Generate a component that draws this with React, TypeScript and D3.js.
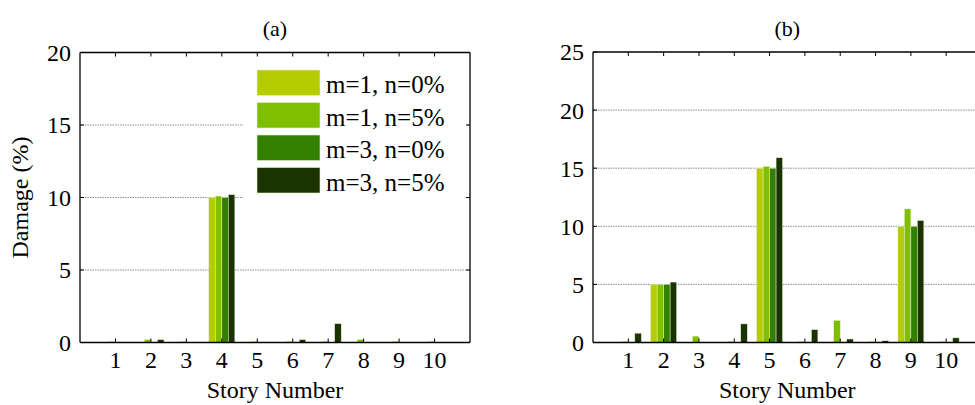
import React from "react";
import * as d3 from "d3";

const stories = [1, 2, 3, 4, 5, 6, 7, 8, 9, 10];
const seriesNames = ["m=1, n=0%", "m=1, n=5%", "m=3, n=0%", "m=3, n=5%"];
const seriesColors = ["#b5cc00", "#80bf00", "#338000", "#1a3300"];

// Panel (a)
const a_m1n0 = [0, 0, 0, 10.0, 0, 0, 0, 0, 0, 0];
const a_m1n5 = [0.07, 0.2, 0.07, 10.1, 0.07, 0.07, 0.07, 0.2, 0.07, 0.07];
const a_m3n0 = [0, 0, 0, 10.0, 0, 0, 0, 0, 0, 0];
const a_m3n5 = [0, 0.2, 0, 10.2, 0, 0.2, 1.3, 0, 0, 0];

// Panel (b)
const b_m1n0 = [0, 5.0, 0, 0, 15.0, 0, 0, 0, 10.0, 0];
const b_m1n5 = [0.08, 5.0, 0.55, 0.08, 15.15, 0.08, 1.9, 0.08, 11.5, 0.08];
const b_m3n0 = [0, 5.0, 0, 0, 15.0, 0, 0, 0, 10.0, 0];
const b_m3n5 = [0.8, 5.2, 0, 1.6, 15.9, 1.1, 0.3, 0.15, 10.5, 0.4];

const aTicks = [0, 5, 10, 15, 20];
const bTicks = [0, 5, 10, 15, 20, 25];

const FONT = "Liberation Serif, Times New Roman, DejaVu Serif, serif";
const txt = (size: number) => ({ fontFamily: FONT, fontSize: size + "px" });

type PanelProps = {
  left: number;
  right: number;
  top: number;
  bottom: number;
  yMax: number;
  ticks: number[];
  data: number[][];
  title: string;
  showYLabel: boolean;
  showLegend: boolean;
  clipRight: boolean;
};

function Panel(p: PanelProps) {
  const x = d3.scaleLinear().domain([0, 11]).range([p.left, p.right]);
  const y = d3.scaleLinear().domain([0, p.yMax]).range([p.bottom, p.top]);
  const groupW = (x(1) - x(0)) * 0.735;
  const inner = d3
    .scaleBand<string>()
    .domain(seriesNames)
    .range([-groupW / 2, groupW / 2])
    .padding(0);
  const tickLen = 4;
  const cx = (p.left + p.right) / 2;
  const visRight = p.clipRight ? 975 : p.right;

  return (
    <g>
      {p.ticks
        .filter((t) => t > 0 && t < p.yMax)
        .map((t) => (
          <line
            key={"g" + t}
            x1={p.left}
            x2={p.right}
            y1={y(t)}
            y2={y(t)}
            stroke="#8a8a8a"
            strokeWidth={1}
            strokeDasharray="1.5,1"
          />
        ))}
      {p.data.map((vals, si) =>
        vals.map((v, i) => {
          if (v <= 0) return null;
          const bx = x(stories[i]) + (inner(seriesNames[si]) as number);
          return (
            <rect
              key={si + "-" + i}
              x={bx}
              y={y(v)}
              width={inner.bandwidth()}
              height={y(0) - y(v)}
              fill={seriesColors[si]}
              stroke="#e4edc8"
              strokeWidth={0.5}
            />
          );
        })
      )}
      <line x1={p.left} x2={p.left} y1={p.top} y2={p.bottom} stroke="#000" strokeWidth={1.3} />
      <line x1={p.left} x2={visRight} y1={p.bottom} y2={p.bottom} stroke="#000" strokeWidth={1.3} />
      <line x1={p.left} x2={visRight} y1={p.top} y2={p.top} stroke="#000" strokeWidth={1.3} />
      {!p.clipRight && (
        <line x1={p.right} x2={p.right} y1={p.top} y2={p.bottom} stroke="#000" strokeWidth={1.3} />
      )}
      {p.ticks.map((t) => (
        <g key={"yt" + t}>
          <line x1={p.left} x2={p.left + tickLen} y1={y(t)} y2={y(t)} stroke="#000" strokeWidth={1} />
          {!p.clipRight && (
            <line x1={p.right - tickLen} x2={p.right} y1={y(t)} y2={y(t)} stroke="#000" strokeWidth={1} />
          )}
          <text x={p.left - 9} y={y(t)} dy="0.35em" textAnchor="end" style={txt(24)} fill="#000">
            {t}
          </text>
        </g>
      ))}
      {stories.map((s) => (
        <g key={"xt" + s}>
          <line x1={x(s)} x2={x(s)} y1={p.bottom} y2={p.bottom - tickLen} stroke="#000" strokeWidth={1} />
          <line x1={x(s)} x2={x(s)} y1={p.top} y2={p.top + tickLen} stroke="#000" strokeWidth={1} />
          <text x={x(s)} y={p.bottom + 25} textAnchor="middle" style={txt(24)} fill="#000">
            {s}
          </text>
        </g>
      ))}
      <text x={cx} y={p.bottom + 55} textAnchor="middle" style={txt(24)} fill="#000">
        Story Number
      </text>
      <text x={cx} y={36} textAnchor="middle" style={txt(22)} fill="#000">
        {p.title}
      </text>
      {p.showYLabel && (
        <text
          transform={`translate(${p.left - 52},${(p.top + p.bottom) / 2}) rotate(-90)`}
          textAnchor="middle"
          style={txt(24)}
          fill="#000"
        >
          Damage (%)
        </text>
      )}
      {p.showLegend && (
        <g>
          <rect x={243} y={62} width={223} height={139} fill="#fff" />
          {seriesNames.map((n, i) => (
            <g key={n}>
              <rect
                x={257}
                y={70 + i * 32.5}
                width={63}
                height={25.5}
                fill={seriesColors[i]}
                stroke="#e4edc8"
                strokeWidth={0.6}
              />
              <text x={326} y={70 + i * 32.5 + 23} style={txt(25)} fill="#000">
                {n}
              </text>
            </g>
          ))}
        </g>
      )}
    </g>
  );
}

export default function App() {
  return (
    <svg width={975} height={405} style={{ position: "absolute", left: 0, top: 0, background: "#fff" }}>
      <rect x={0} y={0} width={975} height={405} fill="#fff" />
      <Panel
        left={80}
        right={470}
        top={52.5}
        bottom={342.5}
        yMax={20}
        ticks={aTicks}
        data={[a_m1n0, a_m1n5, a_m3n0, a_m3n5]}
        title="(a)"
        showYLabel={true}
        showLegend={true}
        clipRight={false}
      />
      <Panel
        left={593}
        right={981.5}
        top={52}
        bottom={342.5}
        yMax={25}
        ticks={bTicks}
        data={[b_m1n0, b_m1n5, b_m3n0, b_m3n5]}
        title="(b)"
        showYLabel={false}
        showLegend={false}
        clipRight={true}
      />
    </svg>
  );
}
